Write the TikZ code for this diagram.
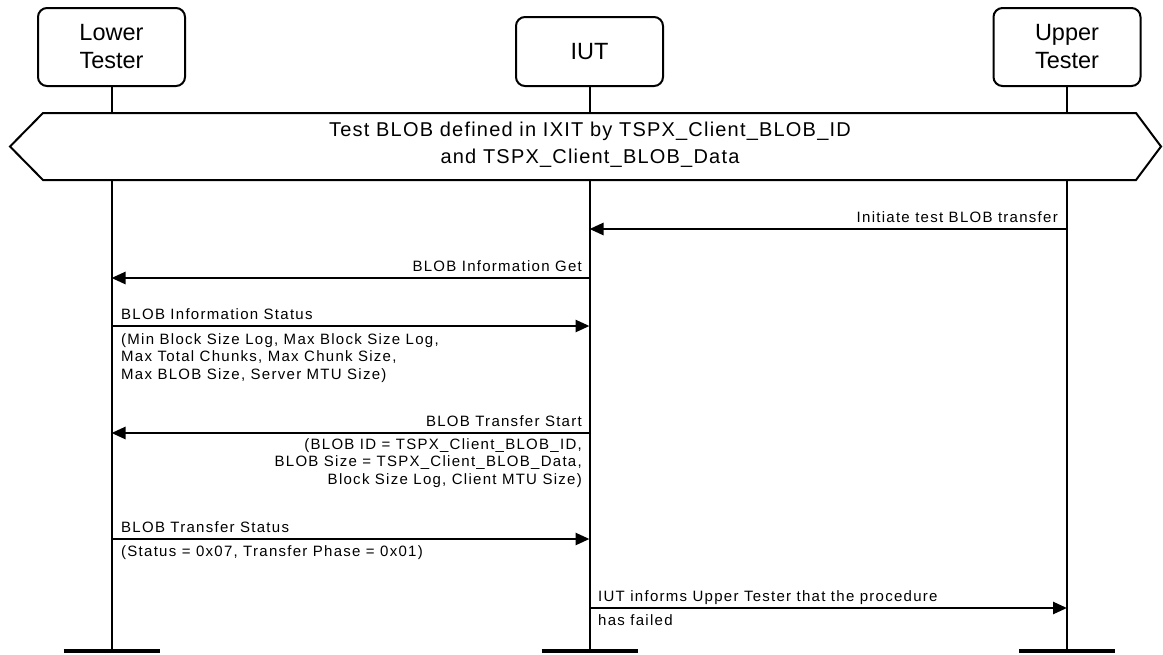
\documentclass[tikz,border=0pt]{standalone}
\usepackage{fontspec}
\setmainfont{Liberation Sans}
\newfontfamily\msgfont[LetterSpace=8.5]{Liberation Sans}
\newfontfamily\banfont[LetterSpace=6]{Liberation Sans}
\usetikzlibrary{arrows.meta}
\begin{document}
\begin{tikzpicture}[x=1pt,y=-1pt,
 actor/.style={draw, line width=2pt, rounded corners=9pt, minimum width=147pt, align=center, font=\fontsize{23.5}{28}\selectfont},
 life/.style={line width=2pt},
 msg/.style={line width=2.6pt, -{Triangle[length=14pt,width=12pt]}},
 lbl/.style={inner sep=0pt, font=\msgfont\fontsize{15}{17.5}\selectfont},
 endbar/.style={line width=4.5pt},
 banner/.style={line width=2pt}
]
\useasboundingbox (0,0) rectangle (1163,654);
% actors
\node[actor, minimum height=78pt] (lt) at (111.5,47) {Lower\\Tester};
\node[actor, minimum height=69pt] (iut) at (589.5,51.5) {IUT};
\node[actor, minimum height=78pt] (ut) at (1067,47) {Upper\\Tester};
% banner
\coordinate (btop) at (0,113);
\coordinate (bbot) at (0,180);
\coordinate (yend) at (0,651);
\draw[banner] (10,146.5) -- (43,113) -- (1136,113) -- (1161,146.5) -- (1136,180) -- (43,180) -- cycle;
\node[font=\banfont\fontsize{20}{27}\selectfont, align=center, inner sep=0pt] (bt) at (590,145) {Test BLOB defined in IXIT by TSPX\_Client\_BLOB\_ID\\and TSPX\_Client\_BLOB\_Data};
% lifelines
\foreach \a in {lt,iut,ut}{
  \draw[life] (\a.south) -- (\a.south |- btop);
  \draw[life] (\a.south |- bbot) -- (\a.south |- yend);
}
\draw[endbar] ([xshift=-48pt]lt.south |- yend) -- ([xshift=48pt]lt.south |- yend);
\draw[endbar] ([xshift=-48pt]iut.south |- yend) -- ([xshift=48pt]iut.south |- yend);
\draw[endbar] ([xshift=-48pt]ut.south |- yend) -- ([xshift=48pt]ut.south |- yend);
% message y positions
\coordinate (m1) at (0,229);
\coordinate (m2) at (0,278);
\coordinate (m3) at (0,326);
\coordinate (m4) at (0,433);
\coordinate (m5) at (0,539);
\coordinate (m6) at (0,608);
% messages
\draw[msg] (ut.south |- m1) -- (iut.south |- m1);
\node[lbl, anchor=base east] (l1) at (1058,222) {Initiate test BLOB transfer};

\draw[msg] (iut.south |- m2) -- (lt.south |- m2);
\node[lbl, anchor=base east] (l2) at (582,271) {BLOB Information Get};

\draw[msg] (lt.south |- m3) -- (iut.south |- m3);
\node[lbl, anchor=base west] (l3) at (121,319) {BLOB Information Status};
\node[lbl, anchor=north west, align=left] (l3b) at (121,333) {(Min Block Size Log, Max Block Size Log,\\Max Total Chunks, Max Chunk Size,\\Max BLOB Size, Server MTU Size)};

\draw[msg] (iut.south |- m4) -- (lt.south |- m4);
\node[lbl, anchor=base east] (l4) at (582,426) {BLOB Transfer Start};
\node[lbl, anchor=north east, align=right] (l4b) at (582,438) {(BLOB ID = TSPX\_Client\_BLOB\_ID,\\BLOB Size = TSPX\_Client\_BLOB\_Data,\\Block Size Log, Client MTU Size)};

\draw[msg] (lt.south |- m5) -- (iut.south |- m5);
\node[lbl, anchor=base west] (l5) at (121,532) {BLOB Transfer Status};
\node[lbl, anchor=north west] (l5b) at (121,545) {(Status = 0x07, Transfer Phase = 0x01)};

\draw[msg] (iut.south |- m6) -- (ut.south |- m6);
\node[lbl, anchor=base west] (l6) at (598,601) {IUT informs Upper Tester that the procedure};
\node[lbl, anchor=north west] (l6b) at (598,614) {has failed};
\end{tikzpicture}
\end{document}
